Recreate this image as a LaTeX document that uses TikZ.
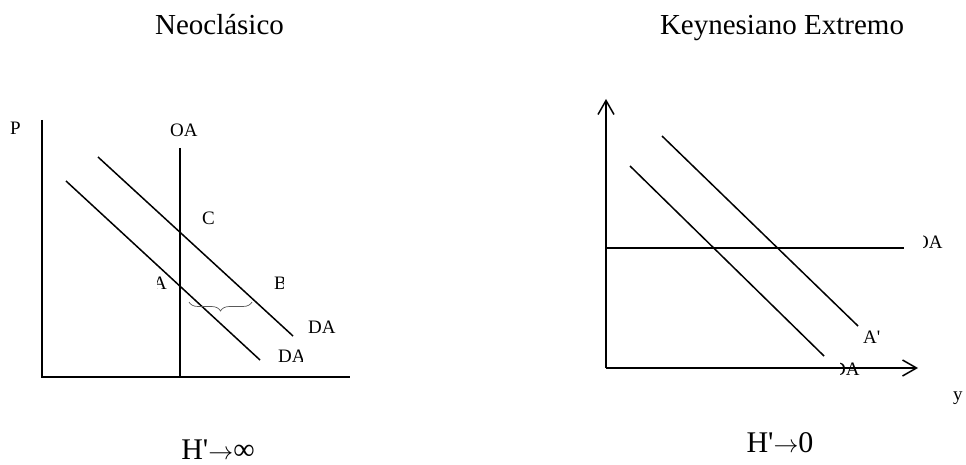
\documentclass[tikz,border=0pt]{standalone}
\usepackage{fontspec}
\setmainfont{Liberation Serif}
\usetikzlibrary{decorations.pathreplacing,arrows.meta}
\begin{document}
\begin{tikzpicture}[x=1pt,y=-1pt,
  lbl/.style={inner sep=0pt,anchor=base west,font=\fontsize{19}{19}\selectfont},
  ttl/.style={inner sep=0pt,anchor=base,font=\fontsize{29}{29}\selectfont},
  hlbl/.style={inner sep=0pt,anchor=base,font=\fontsize{30}{30}\selectfont},
  ax/.style={line width=1.8pt},
  curve/.style={line width=1.5pt},
  arr/.style={-{Straight Barb[length=14pt,width=16pt,line width=1.5pt]}}]
\useasboundingbox (0,0) rectangle (966,465);

% titles
\node[ttl] (t1) at (219.5,35) {Neoclásico};
\node[ttl] (t2) at (782,35) {Keynesiano Extremo};
\node[hlbl] (h1) at (218,459) {H\textquotesingle$\rightarrow$∞};
\node[hlbl] (h2) at (780,452) {H\textquotesingle$\rightarrow$0};

% ---------- left panel ----------
\coordinate (Ltop) at (42,120);
\coordinate (L0) at (42,377);
\coordinate (Lr) at (350,377);
\draw[ax] (Ltop) -- (L0) -- (Lr);
\coordinate (OAt) at (180,148);
\coordinate (OAb) at (180,377);
\draw[ax] (OAt) -- (OAb);
\coordinate (D1a) at (98,157);
\coordinate (D1b) at (293,336);
\draw[curve] (D1a) -- (D1b);
\coordinate (D0a) at (66,181);
\coordinate (D0b) at (260,360);
\draw[curve] (D0a) -- (D0b);
\coordinate (Bra) at (189,302);
\coordinate (Brb) at (252,302);
\draw[decorate,decoration={brace,mirror,amplitude=9pt},gray!70!black,line width=0.7pt] (Bra) -- (Brb);

\node[lbl] (P) at (10,135) {P};
\node[lbl] (OA) at (170,137) {OA};
\node[lbl] (C) at (202,224) {C};
\begin{scope}
  \clip (157,260) rectangle (175,300);
  \node[lbl] (A) at (153,289) {A};
\end{scope}
\begin{scope}
  \clip (260,260) rectangle (283,300);
  \node[lbl] (B) at (274,289) {B};
\end{scope}
\node[lbl] (DA1) at (308,333) {DA};
\begin{scope}
  \clip (270,340) rectangle (302,370);
  \node[lbl] (DA0) at (278,362) {DA};
\end{scope}

% ---------- right panel ----------
\coordinate (R0) at (606,368);
\coordinate (Rtop) at (606,99);
\coordinate (Rr) at (918,368);
\draw[ax,arr] (R0) -- (Rtop);
\draw[ax,arr] (R0) -- (Rr);
\coordinate (OAl) at (606,248);
\coordinate (OAr) at (904,248);
\draw[ax] (OAl) -- (OAr);
\coordinate (E1a) at (662,136);
\coordinate (E1b) at (858,326);
\draw[curve] (E1a) -- (E1b);
\coordinate (E0a) at (630,166);
\coordinate (E0b) at (824,356);
\draw[curve] (E0a) -- (E0b);

\begin{scope}
  \clip (923,225) rectangle (960,260);
  \node[lbl] (OAR) at (915,248) {OA};
\end{scope}
\node[lbl] (Ap) at (863,343) {A\textquotesingle};
\begin{scope}
  \clip (840,350) rectangle (880,385);
  \node[lbl] (DAR) at (832,375) {DA};
\end{scope}
\node[lbl] (y) at (953,400) {y};
\end{tikzpicture}
\end{document}
